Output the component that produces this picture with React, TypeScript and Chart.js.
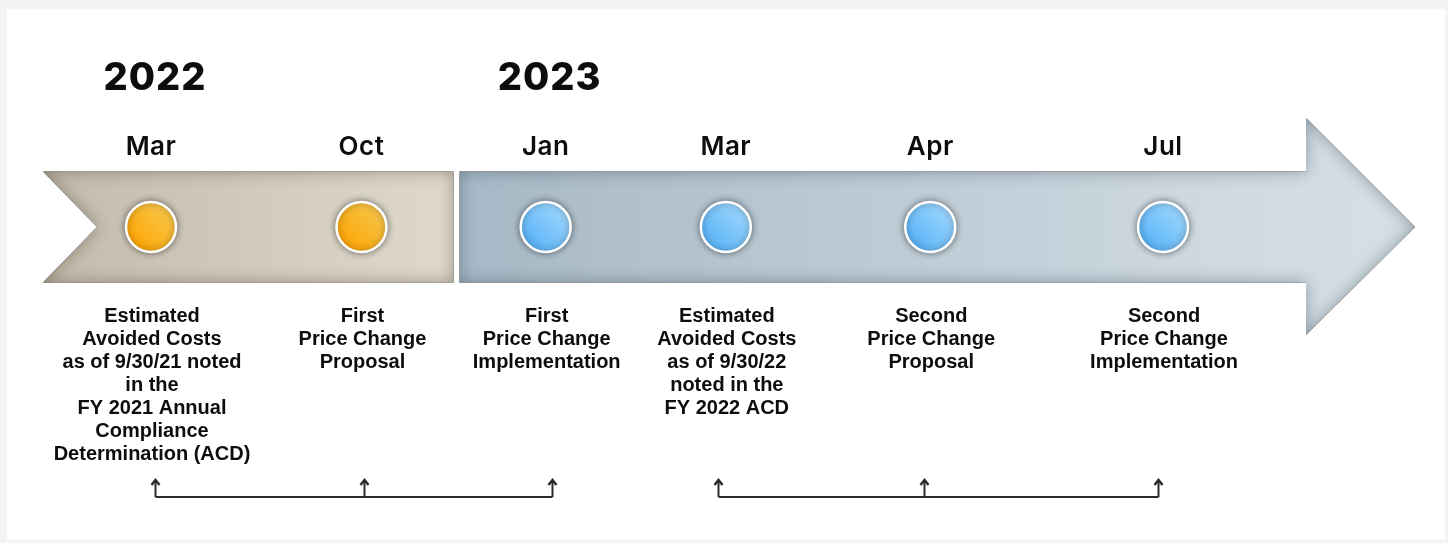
import React, { useEffect, useRef } from 'react';
import { Chart, registerables } from 'chart.js';

Chart.register(...registerables);

// ---- data ----
const milestoneMonths = ['Mar', 'Oct', 'Jan', 'Mar', 'Apr', 'Jul'];
const milestoneYears = [2022, 2022, 2023, 2023, 2023, 2023];
// position of each milestone along the timeline (in timeline slots)
const milestonePositions = [0, 1.04, 1.95, 2.84, 3.85, 5.0];
const milestoneNotes: string[][] = [
  ['Estimated', 'Avoided Costs', 'as of 9/30/21 noted', 'in the', 'FY 2021 Annual', 'Compliance', 'Determination (ACD)'],
  ['First', 'Price Change', 'Proposal'],
  ['First', 'Price Change', 'Implementation'],
  ['Estimated', 'Avoided Costs', 'as of 9/30/22', 'noted in the', 'FY 2022 ACD'],
  ['Second', 'Price Change', 'Proposal'],
  ['Second', 'Price Change', 'Implementation'],
];
// linked milestone groups and where their bracket arrows sit (timeline slots)
const linkedGroups = [[0, 1, 2], [3, 4, 5]];
const bracketPositions = [[0.02, 1.05, 1.98], [2.8, 3.82, 4.975]];
const yearList = [2022, 2023];

const yearColors: Record<number, [string, string]> = {
  2022: ['#ffa400', '#f5c74e'],
  2023: ['#55b1f8', '#a0d7fc'],
};

function innerShadow(ctx: CanvasRenderingContext2D, shape: Path2D, color: string, blur: number) {
  ctx.save();
  ctx.clip(shape);
  const p = new Path2D();
  p.rect(-2000, -2000, 6000, 6000);
  p.addPath(shape);
  ctx.shadowColor = color;
  ctx.shadowBlur = blur;
  ctx.fillStyle = '#000';
  ctx.fill(p, 'evenodd');
  ctx.restore();
}

const timelinePlugin = {
  id: 'timeline',
  beforeDraw(chart: any) {
    const { ctx, width, height } = chart;
    ctx.save();
    ctx.fillStyle = '#f4f4f4';
    ctx.fillRect(0, 0, width, height);
    ctx.fillStyle = '#ffffff';
    ctx.fillRect(7, 9, width - 10, height - 12);
    ctx.restore();
  },
  beforeDatasetsDraw(chart: any) {
    const { ctx } = chart;
    const xs = chart.scales.x;
    const ys = chart.scales.y;
    const px = milestonePositions.map((p) => xs.getPixelForValue(p));
    const cy = ys.getPixelForValue(0);
    const first2023 = milestoneYears.indexOf(2023);
    const split = (px[first2023 - 1] + px[first2023]) / 2;
    const last = px[px.length - 1];
    const top = cy - 55.5;
    const bot = cy + 55.5;

    // tan section
    const tanLeft = px[0] - 108;
    const tan = new Path2D();
    tan.moveTo(tanLeft, top);
    tan.lineTo(split, top);
    tan.lineTo(split, bot);
    tan.lineTo(tanLeft, bot);
    tan.lineTo(px[0] - 54, cy);
    tan.closePath();
    ctx.save();
    const tg = ctx.createLinearGradient(tanLeft, 0, split, 0);
    tg.addColorStop(0, '#c3bbad');
    tg.addColorStop(1, '#dfd9cc');
    ctx.fillStyle = tg;
    ctx.fill(tan);
    ctx.restore();
    innerShadow(ctx, tan, 'rgba(60,50,30,0.4)', 16);

    // blue arrow section
    const bStart = split + 6;
    const headBase = last + 143;
    const tip = last + 252;
    const blue = new Path2D();
    blue.moveTo(bStart, top);
    blue.lineTo(headBase, top);
    blue.lineTo(headBase, cy - 109);
    blue.lineTo(tip, cy);
    blue.lineTo(headBase, cy + 108);
    blue.lineTo(headBase, bot);
    blue.lineTo(bStart, bot);
    blue.closePath();
    ctx.save();
    const bg = ctx.createLinearGradient(bStart, 0, tip, 0);
    bg.addColorStop(0, '#a7b9c6');
    bg.addColorStop(0.85, '#d1dbe2');
    bg.addColorStop(1, '#d6dfe5');
    ctx.fillStyle = bg;
    ctx.fill(blue);
    ctx.restore();
    innerShadow(ctx, blue, 'rgba(40,55,70,0.4)', 16);
  },
  beforeDatasetDraw(chart: any) {
    const { ctx } = chart;
    ctx.save();
    ctx.shadowColor = 'rgba(0,0,0,0.45)';
    ctx.shadowBlur = 7;
  },
  afterDatasetDraw(chart: any) {
    chart.ctx.restore();
  },
  afterDatasetsDraw(chart: any) {
    const { ctx } = chart;
    const xs = chart.scales.x;
    const px = milestonePositions.map((p) => xs.getPixelForValue(p));
    ctx.save();
    ctx.fillStyle = '#0d0d0d';
    ctx.textAlign = 'center';
    ctx.textBaseline = 'middle';

    // years
    ctx.font = '800 38px Inter';
    (ctx as any).letterSpacing = '1px';
    yearList.forEach((yr) => {
      const i = milestoneYears.indexOf(yr);
      ctx.fillText(String(yr), px[i] + 4, 79);
    });

    // months
    ctx.font = '600 26px Inter';
    (ctx as any).letterSpacing = '0.5px';
    milestoneMonths.forEach((m, i) => {
      ctx.fillText(m, px[i], 147);
    });
    (ctx as any).letterSpacing = '0px';

    // notes
    ctx.font = 'bold 20px "Liberation Sans", Arial, sans-serif';
    milestoneNotes.forEach((lines, i) => {
      lines.forEach((ln, k) => {
        ctx.fillText(ln, px[i] + 1, 316 + k * 23);
      });
    });

    // linking brackets
    ctx.strokeStyle = '#2b2b2b';
    ctx.lineWidth = 2;
    const lineY = 497;
    const tipY = 479;
    linkedGroups.forEach((g, gi) => {
      const xsG = bracketPositions[gi].map((p) => Math.round(xs.getPixelForValue(p)) + 0.5);
      ctx.beginPath();
      ctx.moveTo(xsG[0], lineY);
      ctx.lineTo(xsG[xsG.length - 1], lineY);
      ctx.stroke();
      xsG.forEach((x) => {
        ctx.beginPath();
        ctx.moveTo(x, lineY);
        ctx.lineTo(x, tipY + 1);
        ctx.stroke();
        ctx.beginPath();
        ctx.moveTo(x - 4, tipY + 6);
        ctx.lineTo(x, tipY + 1);
        ctx.lineTo(x + 4, tipY + 6);
        ctx.lineWidth = 2.5;
        ctx.stroke();
        ctx.lineWidth = 2;
      });
    });
    ctx.restore();
  },
};

export default function App() {
  const ref = useRef<HTMLCanvasElement>(null);
  useEffect(() => {
    if (!ref.current) return;
    const datasets = yearList.map((yr) => ({
      label: String(yr),
      data: milestonePositions
        .map((p, i) => ({ x: p, y: 0, yr: milestoneYears[i] }))
        .filter((d) => d.yr === yr),
      pointRadius: 25,
      pointBorderWidth: 2.5,
      pointBorderColor: '#ffffff',
      pointBackgroundColor: (c: any) => {
        const chart = c.chart;
        const raw = c.raw;
        const [a, b] = yearColors[yr];
        if (!raw || !chart.chartArea) return a;
        const x = chart.scales.x.getPixelForValue(raw.x);
        const y = chart.scales.y.getPixelForValue(raw.y);
        const g = chart.ctx.createLinearGradient(x - 20, y + 20, x + 20, y - 20);
        g.addColorStop(0, a);
        g.addColorStop(1, b);
        return g;
      },
      showLine: false,
      clip: false,
    }));
    const chart = new Chart(ref.current, {
      type: 'scatter',
      data: { datasets } as any,
      options: {
        animation: false,
        responsive: false,
        devicePixelRatio: 1,
        events: [],
        layout: { padding: 0, autoPadding: false },
        plugins: { legend: { display: false }, tooltip: { enabled: false } },
        scales: {
          x: { type: 'linear', display: false, min: -0.746, max: 6.408 },
          y: { type: 'linear', display: false, min: -3.16, max: 2.27 },
        },
      } as any,
      plugins: [timelinePlugin as any],
    });
    return () => chart.destroy();
  }, []);
  return (
    <div style={{ position: 'fixed', left: 0, top: 0, width: 1448, height: 543 }}>
      <canvas ref={ref} width={1448} height={543} style={{ width: 1448, height: 543, display: 'block' }} />
    </div>
  );
}
